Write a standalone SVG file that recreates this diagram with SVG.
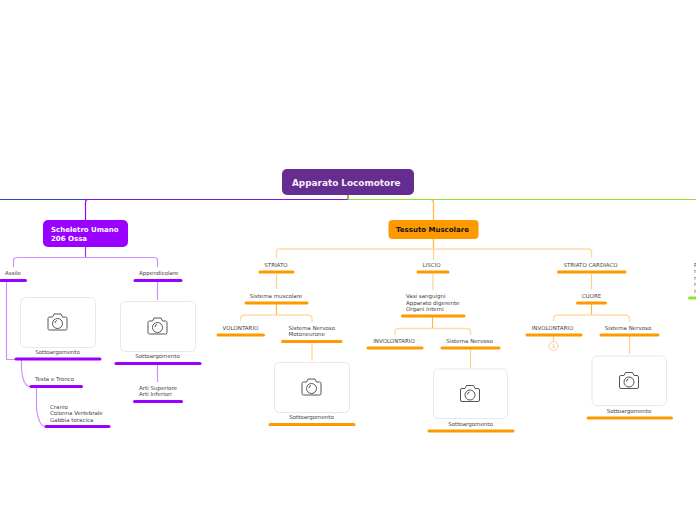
<svg xmlns="http://www.w3.org/2000/svg" xmlns:xlink="http://www.w3.org/1999/xlink" width="696" height="520" viewBox="0 0 696 520">
<style>
text{font-family:"DejaVu Sans",Verdana,sans-serif;font-size:5.5px;fill:#444}
.c{text-anchor:middle}
.root{font-size:8.9px;font-weight:bold;fill:#f4eef8}
.mainp{font-size:7px;font-weight:bold;fill:#fff}
.maino{font-size:7px;font-weight:bold;fill:#111}
.bp{stroke:#9900ff;stroke-width:3;stroke-linecap:round;fill:none}
.bo{stroke:#ff9900;stroke-width:3;stroke-linecap:round;fill:none}
.lp{stroke:#cf8fff;stroke-width:1.2;fill:none}
.lo{stroke:#ffd08a;stroke-width:1.200;fill:none}
.lo2{stroke:#ffdca8;stroke-width:1.500;fill:none}
.img{fill:#fff;stroke:#e8e8e8;stroke-width:1}
.cam{fill:none;stroke:#555;stroke-width:1}
</style>
<defs>
<g id="cam" class="cam"><path d="M-9.500-3.500Q-9.500-5-8-5H-5L-3.500-8H3.500L5-5H8Q9.500-5 9.500-3.500V6.500Q9.500 8 8 8H-8Q-9.500 8-9.500 6.500Z"/><circle cx="0" cy="1.500" r="5"/><path d="M-2.500 1Q-2.500-1 -0.500-1.500"/></g>
</defs>
<g id="connectors">
<path d="M0 199.500H86" stroke="#1a4fd0" stroke-width="1" fill="none"/>
<path d="M86 199.500H348" stroke="#8a12d8" stroke-width="1" fill="none"/>
<path d="M348 199.500H696" stroke="#8fe32a" stroke-width="1" fill="none"/>
<path d="M348 195V199.500" stroke="#9a8a20" stroke-width="1.500" fill="none"/>
<path d="M85.500 221V202Q85.500 199.500 88 199.500" stroke="#9900ff" stroke-width="1.200" fill="none"/>
<path d="M433.500 221V202Q433.500 199.500 431 199.500" stroke="#ffb84d" stroke-width="1.300" fill="none"/>
<path d="M85.500 247V257.500" stroke="#a52be8" stroke-width="1.200" fill="none"/>
<path class="lp" d="M13.500 267V260.500Q13.500 257.500 16.500 257.500H154.500Q157.500 257.500 157.500 260.500V267"/>
<path class="lp" d="M157.500 281V300"/>
<path class="lp" d="M6.500 281V359.500H15"/>
<path class="lp" d="M21.500 360V369Q23 386 30 386.500"/>
<path class="lp" d="M36.500 387V409Q39 426 45 426.500"/>
<path class="lp" d="M157.500 365V382"/>
<path d="M433.500 239V249" stroke="#ffb84d" stroke-width="1.300" fill="none"/>
<path class="lo2" d="M276.500 258V252Q276.500 249 279.500 249H588.500Q591.500 249 591.500 252V258"/>
<path class="lo" d="M433.500 249V260"/>
<path class="lo" d="M276.500 274V289"/>
<path class="lo" d="M433 274V290"/>
<path class="lo" d="M591.500 274V290"/>
<path d="M276.500 304V315" stroke="#ffb84d" stroke-width="1.200" fill="none"/>
<path class="lo2" d="M240.500 321V318.500Q240.500 315 245 315H307Q312 315 312 319V322"/>
<path class="lo" d="M312 343V361"/>
<path d="M432.500 317V328" stroke="#ffb84d" stroke-width="1.200" fill="none"/>
<path class="lo2" d="M395 335V332Q395 328.500 399 328.500H466Q470.500 328.500 470.500 332V335"/>
<path class="lo" d="M470.500 349V368"/>
<path d="M591.500 304V315" stroke="#ffb84d" stroke-width="1.200" fill="none"/>
<path class="lo2" d="M553.500 321V319Q553.500 315 558 315H625Q629.500 315 629.500 319V322"/>
<path class="lo" d="M629.500 336V354"/>
<path class="lo" d="M553.500 336V341"/>
</g>
<g id="root"><rect x="282" y="169" width="132" height="26" rx="5" fill="#662d91"/><text class="root" x="292" y="186">Apparato Locomotore</text></g>
<g id="scheletro"><rect x="43" y="220" width="85" height="27" rx="5" fill="#9900ff"/><text class="mainp" x="51" y="232">Scheletro Umano</text><text class="mainp" x="51" y="241">206 Ossa</text></g>
<g id="tessuto"><rect x="388.500" y="220" width="90" height="19" rx="4" fill="#ff9900"/><text class="maino" x="396" y="232">Tessuto Muscolare</text></g>
<g id="assile"><text x="5" y="275">Assile</text><path class="bp" d="M1 280.500H25.500"/></g>
<g id="appendicolare"><text x="139" y="275">Appendicolare</text><path class="bp" d="M135 280.500H181"/></g>
<g id="img1"><rect class="img" x="20.500" y="297.500" width="75" height="50" rx="5"/><use href="#cam" transform="translate(57.500 322)"/><text class="c" x="57.500" y="354">Sottoargomento</text><path class="bp" d="M16 359H100"/></g>
<g id="img2"><rect class="img" x="120.500" y="301.500" width="75" height="50" rx="5"/><use href="#cam" transform="translate(157.500 326)"/><text class="c" x="157.500" y="358">Sottoargomento</text><path class="bp" d="M116 363.500H200"/></g>
<g id="testa"><text x="35" y="381">Testa e Tronco</text><path class="bp" d="M31 386.500H81.500"/></g>
<g id="arti"><text x="139" y="390">Arti Superiore</text><text x="139" y="396">Arti Inferiori</text><path class="bp" d="M134.500 401.500H181.500"/></g>
<g id="cranio"><text x="50" y="409">Cranio</text><text x="50" y="415">Colonna Vertebrale</text><text x="50" y="422">Gabbia toracica</text><path class="bp" d="M46 426.500H109"/></g>
<g id="striato"><text class="c" x="276" y="267">STRIATO</text><path class="bo" d="M260 272H293"/></g>
<g id="liscio"><text class="c" x="431.500" y="267">LISCIO</text><path class="bo" d="M418 272H448"/></g>
<g id="cardiaco"><text class="c" x="590.500" y="267">STRIATO CARDIACO</text><path class="bo" d="M558.500 272H625"/></g>
<g id="sistema-muscolare"><text class="c" x="276" y="298">Sistema muscolare</text><path class="bo" d="M246 303H307"/></g>
<g id="vasi"><text x="406" y="298">Vasi sanguigni</text><text x="406" y="305">Apparato digerente</text><text x="406" y="311">Organi interni</text><path class="bo" d="M402.500 316H464"/></g>
<g id="cuore"><text class="c" x="591.500" y="298">CUORE</text><path class="bo" d="M577.500 303H605.500"/></g>
<g id="volontario"><text class="c" x="240.500" y="330">VOLONTARIO</text><path class="bo" d="M218 335H263.500"/></g>
<g id="motoneurone"><text x="288.500" y="330">Sistema Nervoso</text><text x="288.500" y="336">Motoneurone</text><path class="bo" d="M282.500 341.500H341"/></g>
<g id="involontario1"><text class="c" x="394" y="343">INVOLONTARIO</text><path class="bo" d="M368 348H422"/></g>
<g id="nervoso1"><text class="c" x="469.500" y="343">Sistema Nervoso</text><path class="bo" d="M442 348H499"/></g>
<g id="involontario2"><text class="c" x="552.500" y="330">INVOLONTARIO</text><path class="bo" d="M527 335H581"/></g>
<g id="nervoso2"><text class="c" x="628" y="330">Sistema Nervoso</text><path class="bo" d="M601 335H658"/></g>
<g id="badge"><circle cx="553.500" cy="346" r="4.500" fill="#fff" stroke="#ffd08a" stroke-width="1"/><text class="c" x="553.500" y="348" style="font-size:5px;fill:#e8b878">1</text></g>
<g id="img3"><rect class="img" x="274.500" y="362.500" width="75" height="50" rx="5"/><use href="#cam" transform="translate(311.500 387)"/><text class="c" x="311.500" y="419">Sottoargomento</text><path class="bo" d="M270 424.500H354"/></g>
<g id="img4"><rect class="img" x="433.500" y="369" width="74" height="49.500" rx="5"/><use href="#cam" transform="translate(470 393.500)"/><text class="c" x="470.500" y="426">Sottoargomento</text><path class="bo" d="M429 431H513"/></g>
<g id="img5"><rect class="img" x="592" y="356" width="74.500" height="49.500" rx="5"/><use href="#cam" transform="translate(629 380.500)"/><text class="c" x="629" y="413">Sottoargomento</text><path class="bo" d="M588 418H671.500"/></g>
<g id="cut"><text x="694" y="267">P</text><text x="694" y="273">n</text><text x="694" y="280">n</text><text x="694" y="286">n</text><text x="694" y="293">n</text><path d="M689.500 298H696" stroke="#8fe32a" stroke-width="3" stroke-linecap="round" fill="none"/></g>
</svg>
